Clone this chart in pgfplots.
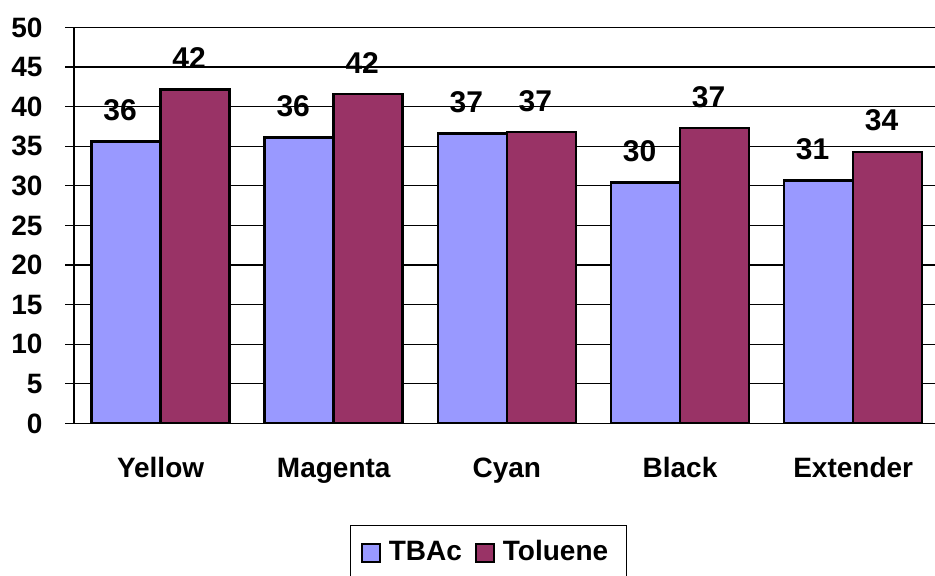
\documentclass[border=0pt]{standalone}
\usepackage{fontspec}
\setmainfont{Liberation Sans}
\usepackage{pgfplots}
\pgfplotsset{compat=1.18}
\definecolor{tbac}{HTML}{9999FF}
\definecolor{tol}{HTML}{993366}
\begin{document}
\begin{tikzpicture}
\clip (0,0) rectangle (467.5pt,288pt);
\begin{axis}[
  at={(37pt,76.25pt)}, anchor=south west,
  scale only axis, width=432.875pt, height=198pt,
  xmin=-0.5, xmax=4.5, ymin=0, ymax=50,
  axis x line=bottom, axis y line=left,
  axis line style={-, black, line width=0.8pt},
  xtick={0,1,2,3,4},
  xticklabels={Yellow,Magenta,Cyan,Black,Extender},
  xtick style={draw=none},
  ytick={0,5,...,50},
  ymajorgrids,
  major grid style={black, line width=0.6pt},
  ytick style={black, line width=0.6pt},
  tick align=outside, major tick length=4.5pt,
  /pgf/number format/assume math mode=true,
  yticklabel style={font=\bfseries\fontsize{14}{16}\selectfont, anchor=east, inner sep=0pt, xshift=-11.1pt},
  xticklabel style={font=\bfseries\fontsize{14}{16}\selectfont, anchor=base, inner sep=0pt, yshift=-22.5pt},
  ybar, bar width=0.3985,
  nodes near coords,
  every node near coord/.append style={font=\bfseries\fontsize{15}{18}\selectfont, anchor=base, yshift=10.5pt, xshift=-3pt, inner sep=0pt, black},
  nodes near coords style={/pgf/number format/.cd, fixed, precision=0},
  legend columns=2,
  legend style={at={(0.4788,-0.2551)}, anchor=north, draw=black, line width=0.6pt,
    inner xsep=5pt, inner ysep=7.45pt,
    font=\bfseries\fontsize{14}{16}\selectfont,
    column sep=0pt,
    nodes={inner xsep=4pt, inner ysep=0pt, text height=10.3pt, text depth=10pt},
    /tikz/every even column/.append style={column sep=2.5pt}},
  legend image code/.code={\draw[#1, line width=1pt] (0pt,-1pt) rectangle (9pt,8pt);},
]
\addplot[ybar, fill=tbac, draw=black, line width=1.3pt, bar shift=-0.19925]
  coordinates {(0,35.6) (1,36.1) (2,36.6) (3,30.4) (4,30.7)};
\addplot[ybar, fill=tol, draw=black, line width=1.3pt, bar shift=0.19925]
  coordinates {(0,42.2) (1,41.6) (2,36.8) (3,37.3) (4,34.3)};
\legend{TBAc,Toluene}
\end{axis}
\end{tikzpicture}
\end{document}
